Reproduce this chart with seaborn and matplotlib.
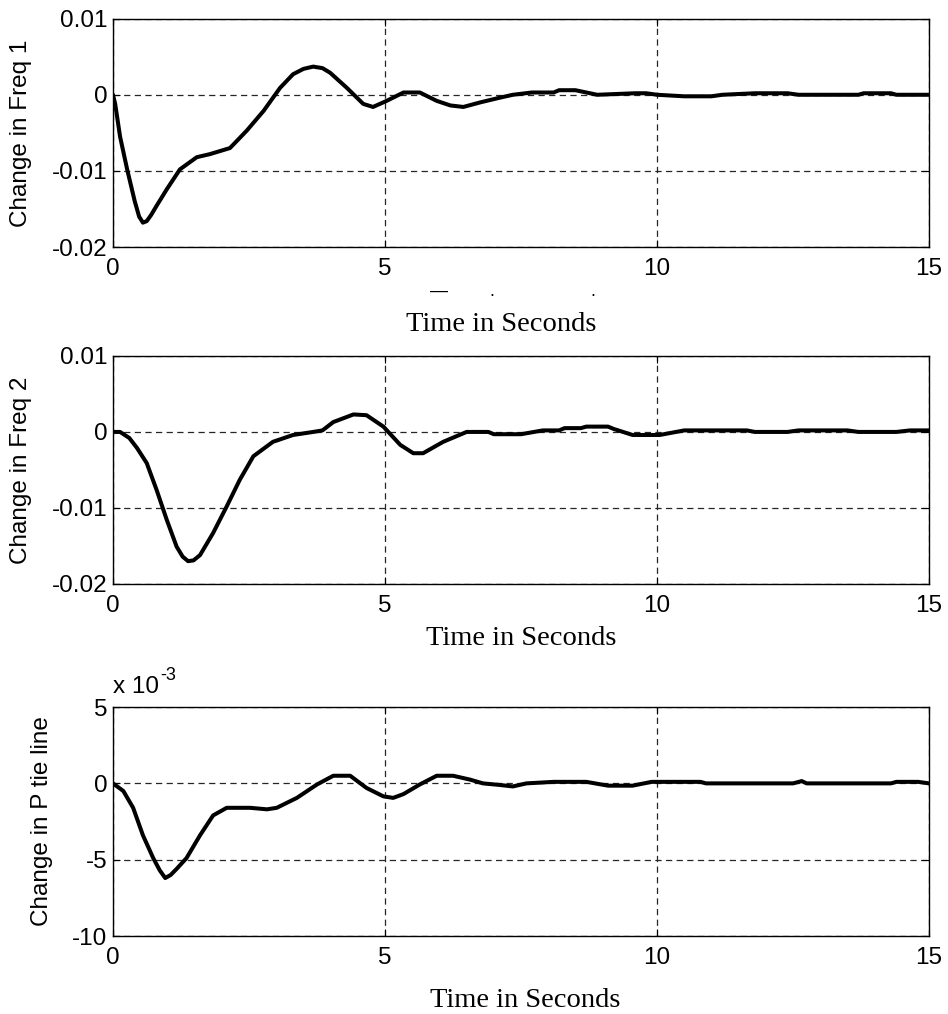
import matplotlib
matplotlib.use("Agg")
import matplotlib.pyplot as plt
import seaborn as sns

# Change in Freq 1
t_f1 = [0, 0.04, 0.13, 0.26, 0.4, 0.48, 0.55, 0.62, 0.7, 0.8, 0.99, 1.23,
        1.54, 1.78, 2.15, 2.46, 2.77, 3.07, 3.31, 3.5, 3.68, 3.85,
        3.99, 4.3, 4.6, 4.78, 5.03, 5.34, 5.64, 5.95, 6.2, 6.44,
        6.75, 7.1, 7.35, 7.7, 8.1, 8.2, 8.5, 8.9, 9.6, 9.8,
        10.0, 10.5, 11.0, 11.2, 11.8, 12.4, 12.6, 13.7, 13.8, 14.3,
        14.4, 15.0]
freq1 = [0, -0.0012, -0.0055, -0.0098, -0.0140, -0.0160, -0.0168, -0.0166, -0.0158, -0.0146, -0.0124, -0.0098,
         -0.0082, -0.0078, -0.0070, -0.0047, -0.0021, 0.0009, 0.0027, 0.0034, 0.0037, 0.0035,
         0.0029, 0.0009, -0.0012, -0.0016, -0.0008, 0.0003, 0.0003, -0.0008, -0.0014, -0.0016,
         -0.0010, -0.0004, 0.0, 0.0003, 0.0003, 0.0006, 0.0006, 0.0, 0.0002, 0.0002,
         0.0, -0.0002, -0.0002, 0.0, 0.0002, 0.0002, 0.0, 0.0, 0.0002, 0.0002,
         0.0, 0.0]

# Change in Freq 2
t_f2 = [0, 0.13, 0.3, 0.44, 0.62, 0.8, 0.99, 1.17, 1.28, 1.38, 1.48, 1.6,
        1.84, 2.09, 2.33, 2.58, 2.94, 3.31, 3.68, 3.85, 4.05, 4.42,
        4.66, 4.97, 5.28, 5.52, 5.7, 6.07, 6.5, 6.9, 7.0, 7.5,
        7.9, 8.2, 8.3, 8.6, 8.7, 9.1, 9.2, 9.55, 10.05, 10.5,
        11.65, 11.8, 12.4, 12.6, 13.5, 13.7, 14.4, 14.65, 15.0]
freq2 = [0, 0, -0.0008, -0.0021, -0.0041, -0.0076, -0.0116, -0.0151, -0.0164, -0.0170, -0.0169, -0.0162,
         -0.0133, -0.0098, -0.0063, -0.0032, -0.0013, -0.0004, 0.0, 0.0002, 0.0013, 0.0023,
         0.0022, 0.0007, -0.0017, -0.0028, -0.0028, -0.0013, 0.0, 0.0, -0.0003, -0.0003,
         0.0002, 0.0002, 0.0005, 0.0005, 0.0007, 0.0007, 0.0004, -0.0004, -0.0004, 0.0002,
         0.0002, 0.0, 0.0, 0.0002, 0.0002, 0.0, 0.0, 0.0002, 0.0002]

# Change in P tie line, in units of 1e-3
t_tie = [0, 0.19, 0.37, 0.55, 0.74, 0.86, 0.96, 1.06, 1.17, 1.35, 1.6, 1.84,
         2.09, 2.52, 2.83, 3.01, 3.38, 3.75, 4.05, 4.36, 4.66, 4.97,
         5.15, 5.34, 5.64, 5.95, 6.25, 6.56, 6.8, 7.1, 7.35, 7.6,
         8.1, 8.7, 9.1, 9.55, 9.9, 10.8, 10.9, 12.5, 12.66, 12.75,
         14.3, 14.4, 14.8, 15.0]
ptie = [0, -0.5, -1.6, -3.4, -4.9, -5.7, -6.2, -6.0, -5.6, -4.9, -3.4, -2.1,
        -1.6, -1.6, -1.7, -1.6, -0.95, -0.07, 0.5, 0.5, -0.3, -0.85,
        -0.95, -0.7, -0.07, 0.5, 0.5, 0.25, 0.0, -0.1, -0.2, 0.0,
        0.1, 0.1, -0.15, -0.15, 0.1, 0.1, 0.0, 0.0, 0.15, 0.0,
        0.0, 0.1, 0.1, 0.0]

x_ticks = [0, 5, 10, 15]
freq_ticks = [-0.02, -0.01, 0, 0.01]
freq_ticklabels = ["-0.02", "-0.01", "0", "0.01"]
tie_ticks = [-10, -5, 0, 5]
tie_ticklabels = ["-10", "-5", "0", "5"]

sns.set_style("white")
plt.rcParams['font.family'] = ['Liberation Sans', 'DejaVu Sans']
plt.rcParams['text.color'] = 'black'
plt.rcParams['axes.labelcolor'] = 'black'
plt.rcParams['xtick.color'] = 'black'
plt.rcParams['ytick.color'] = 'black'

fig = plt.figure(figsize=(9.48, 10.14), dpi=100)

# axes placement in figure fractions
ax1 = fig.add_axes([0.1192, 0.7564, 0.8608, 0.2252])
ax2 = fig.add_axes([0.1192, 0.4241, 0.8608, 0.2249])
ax3 = fig.add_axes([0.1192, 0.0769, 0.8608, 0.2258])

panels = [
    (ax1, t_f1, freq1, freq_ticks, freq_ticklabels, (-0.02, 0.01), "Change in Freq 1", (0.4755, -0.368)),
    (ax2, t_f2, freq2, freq_ticks, freq_ticklabels, (-0.02, 0.01), "Change in Freq 2", (0.5, -0.2675)),
    (ax3, t_tie, ptie, tie_ticks, tie_ticklabels, (-10, 5), "Change in P tie line", (0.505, -0.31)),
]

for ax, x, y, yt, ytl, ylim, ylab, xlab_pos in panels:
    ax.grid(True, linestyle=(0, (5, 3.5)), color='0.15', linewidth=0.9)
    ax.set_axisbelow(True)
    sns.lineplot(x=x, y=y, ax=ax, color='black', linewidth=2.9)
    ax.set_xlim(0, 15)
    ax.set_ylim(*ylim)
    ax.set_xticks(x_ticks)
    ax.set_xticklabels([str(v) for v in x_ticks])
    ax.set_yticks(yt)
    ax.set_yticklabels(ytl)
    for s in ax.spines.values():
        s.set_visible(True)
        s.set_color('black')
        s.set_linewidth(1.0)
    ax.tick_params(axis='both', which='major', direction='in', length=5, width=0.8,
                   labelsize=17.5, colors='black', top=True, right=True,
                   bottom=True, left=True)
    ax.tick_params(axis='x', pad=8)
    ax.tick_params(axis='y', pad=4)
    ax.set_ylabel(ylab, fontsize=17.5, labelpad=14, color='black')
    ax.set_xlabel("Time in Seconds", fontsize=20.5, family='Liberation Serif',
                  va='baseline', color='black')
    ax.xaxis.set_label_coords(*xlab_pos)

# exponent label of the bottom panel
ax3.text(0.0, 1.061, "x 10", transform=ax3.transAxes, fontsize=17.5,
         ha='left', va='baseline', color='black')
ax3.text(0.058, 1.12, "-3", transform=ax3.transAxes, fontsize=13,
         ha='left', va='baseline', color='black')

# remnants of an older, mostly hidden label under the first panel
fig.text(438.5 / 948, 1 - 296 / 1014, "\u2014", fontsize=13, ha='center',
         va='baseline', color='black')
fig.text(492 / 948, 1 - 296 / 1014, ".", fontsize=13, ha='center', va='baseline',
         color='black')
fig.text(593 / 948, 1 - 296 / 1014, ".", fontsize=13, ha='center', va='baseline',
         color='black')

fig.savefig("out.png", dpi=100)
